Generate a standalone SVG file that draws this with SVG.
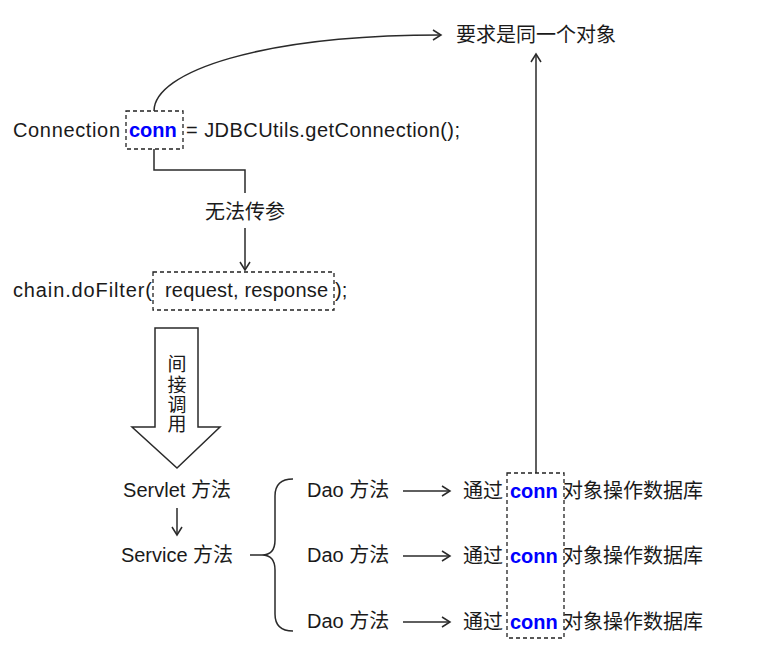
<svg xmlns="http://www.w3.org/2000/svg" width="759" height="667" viewBox="0 0 759 667">
<style>
text{font-family:"Liberation Sans","Noto Sans CJK SC",sans-serif;font-size:20px;fill:#1a1a1a}
.b{font-weight:bold;fill:#0000ff}
.ln{fill:none;stroke:#2a2a2a;stroke-width:1.5}
.dash{fill:none;stroke:#222;stroke-width:1.3;stroke-dasharray:4 3}
.v{font-size:19px;text-anchor:middle}
</style>
<defs>
<marker id="ah" markerWidth="12" markerHeight="12" refX="10" refY="6" orient="auto" markerUnits="userSpaceOnUse">
<path d="M2,1 L10,6 L2,11" fill="none" stroke="#2a2a2a" stroke-width="1.5"/>
</marker>
</defs>
<rect width="759" height="667" fill="#fff"/>
<g id="connectors">
<path class="ln" d="M154,111 C154,72 260,35 441,35" marker-end="url(#ah)"/>
<path class="ln" d="M154,149 L154,170 L245,170 L245,193"/>
<path class="ln" d="M245,228 L245,270" marker-end="url(#ah)"/>
<path class="ln" d="M536,473 L536,54" marker-end="url(#ah)"/>
<path class="ln" d="M177,508 L177,535" marker-end="url(#ah)"/>
<path class="ln" d="M403,491 L450,491" marker-end="url(#ah)"/>
<path class="ln" d="M403,556 L450,556" marker-end="url(#ah)"/>
<path class="ln" d="M403,622 L450,622" marker-end="url(#ah)"/>
<path class="ln" d="M250,555 L262,555 Q275,555 275,540 L275,496 Q275,479 293,479 M262,555 Q275,555 275,570 L275,614 Q275,631 293,631"/>
</g>
<g id="target"><text x="456" y="42">要求是同一个对象</text></g>
<g id="line1">
<text x="13" y="137" textLength="107">Connection</text>
<rect class="dash" x="126" y="111" width="57" height="38"/>
<text class="b" x="129" y="137">conn</text>
<text x="186" y="137" textLength="274">= JDBCUtils.getConnection();</text>
</g>
<g id="label1"><text x="205" y="219">无法传参</text></g>
<g id="line2">
<text x="13" y="297" textLength="139">chain.doFilter(</text>
<rect class="dash" x="153" y="272" width="181" height="38"/>
<text x="165" y="297" textLength="163">request, response</text>
<text x="335" y="297">);</text>
</g>
<g id="bigarrow">
<path fill="#fff" stroke="#2a2a2a" stroke-width="1.5" d="M155,328 L198,328 L198,427 L220,427 L177,468 L132,427 L155,427 Z"/>
<text class="v" x="177" y="371">间</text>
<text class="v" x="177" y="392">接</text>
<text class="v" x="177" y="412">调</text>
<text class="v" x="177" y="431">用</text>
</g>
<g id="servlet"><text x="177" y="497" text-anchor="middle">Servlet 方法</text></g>
<g id="service"><text x="177" y="562" text-anchor="middle">Service 方法</text></g>
<g id="dao1"><text x="307" y="497">Dao 方法</text></g>
<g id="dao2"><text x="307" y="562">Dao 方法</text></g>
<g id="dao3"><text x="307" y="628">Dao 方法</text></g>
<g id="connbox"><rect class="dash" x="507" y="473" width="57" height="165"/></g>
<g id="op1"><text x="463" y="498">通过</text><text class="b" x="510" y="498">conn</text><text x="563" y="498">对象操作数据库</text></g>
<g id="op2"><text x="463" y="563">通过</text><text class="b" x="510" y="563">conn</text><text x="563" y="563">对象操作数据库</text></g>
<g id="op3"><text x="463" y="629">通过</text><text class="b" x="510" y="629">conn</text><text x="563" y="629">对象操作数据库</text></g>
</svg>
